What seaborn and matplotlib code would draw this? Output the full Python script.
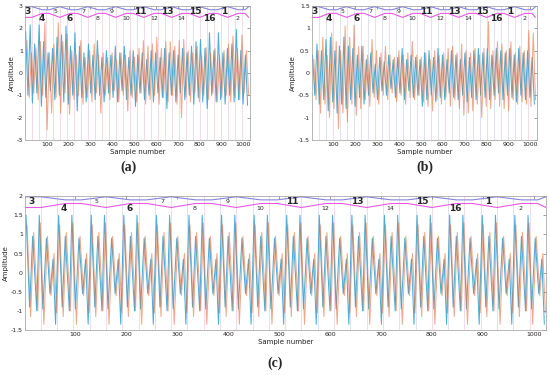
import numpy as np
import matplotlib
matplotlib.use("Agg")
import matplotlib.pyplot as plt
from matplotlib.ticker import FuncFormatter
import seaborn as sns

# segment layout of the signals
n_samples = 1024
seg_len = 64

# segment order labels drawn at the top of every panel
row1_labels = ['3', '5', '7', '9', '11', '13', '15', '1']
row2_labels = ['4', '6', '8', '10', '12', '14', '16', '2']
row1_bold = [True, False, False, False, True, True, True, True]
row2_bold = [True, True, False, False, False, False, True, False]

# (a) alternating peak / trough amplitudes
a_blue = [1.85, -1.0, 2.15, -1.35, 1.3, -0.9, 2.15, -1.5, 1.4, -1.1,
          0.9, -0.8, 1.1, -1.2, 1.6, -1.0, 1.7, -1.3, 2.1, -1.4,
          1.2, -1.0, 1.8, -1.7, 1.2, -1.1, 0.9, -1.3, 1.3, -0.9,
          0.8, -1.2, 1.45, -1.0, 0.7, -1.3, 1.0, -0.9, 0.8, -1.1,
          1.2, -1.3, 0.9, -0.8, 1.2, -1.2, 0.7, -1.0, 1.0, -1.5,
          0.8, -0.9, 0.9, -1.2, 0.6, -1.0, 1.0, -1.3, 0.9, -0.9,
          0.7, -1.1, 1.1, -1.6, 0.9, -1.0, 1.0, -1.3, 0.8, -0.9,
          1.1, -1.2, 0.9, -1.0, 1.2, -1.4, 1.4, -1.1, 1.5, -1.3,
          1.1, -1.6, 1.8, -1.0, 1.0, -1.3, 1.8, -1.2, 0.9, -1.4,
          1.1, -1.0, 1.3, -1.3, 1.95, -1.2, 1.0, -1.4, 0.8, -1.45]
a_orange = [1.45, -1.1, 0.9, -0.9, 1.1, -1.2, 1.4, -1.0, 2.25, -2.55,
            0.9, -1.8, 1.3, -1.1, 2.25, -1.8, 1.4, -0.9, 1.75, -1.85,
            1.0, -1.2, 0.8, -1.0, 1.45, -1.4, 0.7, -1.1, 1.0, -1.3,
            1.3, -0.9, 0.8, -1.8, 0.9, -1.0, 0.7, -1.2, 0.9, -0.8,
            0.6, -1.3, 0.9, -1.0, 0.8, -1.7, 1.0, -1.1, 0.7, -1.3,
            1.1, -0.9, 1.45, -1.4, 1.2, -1.2, 1.3, -1.0, 1.6, -1.4,
            1.1, -1.1, 1.4, -1.3, 1.4, -1.0, 1.2, -1.4, 1.45, -2.0,
            1.5, -1.1, 1.0, -1.3, 0.9, -0.9, 1.2, -1.3, 0.8, -1.0,
            1.15, -1.2, 0.9, -0.9, 1.1, -1.3, 0.8, -1.1, 1.0, -1.0,
            1.3, -1.3, 1.65, -1.1, 1.1, -1.2, 1.7, -0.9, 1.0, -1.0]

# (b)
b_blue = [0.4, -0.5, 0.65, -0.7, 0.5, -0.6, 0.75, -0.85, 0.8, -0.65,
          0.5, -0.9, 0.6, -0.7, 0.8, -0.8, 0.6, -0.6, 0.55, -0.75,
          0.4, -0.55, 0.6, -0.7, 0.3, -0.5, 0.45, -0.45, 0.2, -0.6,
          0.35, -0.4, 0.25, -0.5, 0.4, -0.35, 0.3, -0.55, 0.35, -0.45,
          0.55, -0.6, 0.3, -0.4, 0.4, -0.55, 0.35, -0.5, 0.3, -0.75,
          0.45, -0.6, 0.5, -0.5, 0.35, -0.65, 0.55, -0.55, 0.4, -0.6,
          0.3, -0.45, 0.5, -0.55, 0.4, -0.6, 0.3, -0.5, 0.45, -0.65,
          0.35, -0.55, 0.5, -0.6, 0.55, -0.5, 0.45, -0.55, 0.55, -0.6,
          0.4, -0.5, 0.55, -0.45, 0.5, -0.6, 0.45, -0.5, 0.55, -0.55,
          0.4, -0.65, 0.55, -0.5, 0.45, -0.6, 0.5, -0.55, 0.35, -0.7]
b_orange = [0.3, -0.6, 0.5, -0.9, 0.8, -0.7, 0.4, -1.0, 0.9, -0.8,
            0.7, -1.25, 0.5, -0.9, 1.05, -1.1, 0.8, -0.7, 1.07, -0.95,
            0.6, -0.8, 0.6, -0.6, 0.4, -0.75, 0.75, -0.55, 0.5, -0.7,
            0.45, -0.5, 0.6, -0.6, 0.4, -0.45, 0.35, -0.65, 0.5, -0.5,
            0.4, -0.7, 0.45, -0.55, 0.7, -0.6, 0.4, -0.5, 0.35, -0.65,
            0.45, -0.75, 0.3, -0.85, 0.5, -0.6, 0.4, -0.7, 0.45, -0.55,
            0.55, -0.75, 0.6, -0.6, 0.45, -0.8, 0.65, -0.95, 0.5, -0.9,
            0.45, -0.85, 0.55, -0.7, 0.4, -1.0, 0.55, -0.75, 1.15, -0.8,
            0.5, -0.6, 0.7, -0.75, 0.65, -0.8, 0.5, -0.85, 0.7, -0.6,
            0.45, -0.7, 0.6, -0.65, 0.5, -0.7, 0.95, -0.75, 0.9, -0.6]

# (c) the same 64-sample pattern shows in every segment
c_blue_offsets = [3, 10, 16, 24, 29, 36, 43, 50, 56, 61]
c_blue_cycle = [1.5, -0.9, 0.95, -1.0, 1.5, -0.95, 0.9, -0.55, 0.35, -1.35]
c_orange_offsets = [5, 12, 18, 26, 31, 38, 45, 52, 58, 63]
c_orange_cycle = [1.25, -1.15, 1.05, -1.0, 1.3, -1.35, 0.95, -0.6, 0.5, -1.05]

blue = '#2E9FD0'
orange = '#E2703F'
purple = '#8585D6'
magenta = '#E65BE0'
vline_colors = ['#F3D5E3', '#DCDCEC']

sns.set_style("white")
plt.rcParams['font.family'] = ['DejaVu Sans']
plt.rcParams['axes.unicode_minus'] = False


def guide_points(y0, y1):
    # zigzag guide lines in the top strip of each panel
    gx, gp, gm = [1], [0.995], [0.915]
    for k in range(8):
        base = 128 * k
        for dx, fp, fm in [(32, 0.995, 0.915), (80, 0.972, 0.945), (112, 0.972, 0.945)]:
            gx.append(base + dx)
            gp.append(fp)
            gm.append(fm)
    gx.append(n_samples)
    gp.append(0.995)
    gm.append(0.915)
    gx = np.array(gx)
    gp = y0 + np.array(gp) * (y1 - y0)
    gm = y0 + np.array(gm) * (y1 - y0)
    return gx, gp, gm


def draw_panel(ax, xb, yb, xo, yo, ylim, yticks, xlim):
    for i, xv in enumerate(range(seg_len // 2, n_samples, seg_len // 2)):
        ax.axvline(xv, color=vline_colors[i % 2], lw=0.6, zorder=0)
    sns.lineplot(x=xb, y=yb, ax=ax, color=blue, lw=0.75, alpha=0.85,
                 estimator=None, sort=False)
    sns.lineplot(x=xo, y=yo, ax=ax, color=orange, lw=0.75, alpha=0.6,
                 estimator=None, sort=False)

    gx, gp, gm = guide_points(*ylim)
    ax.plot(gx, gp, color=purple, lw=0.8)
    ax.plot(gx, gm, color=magenta, lw=0.8)

    span = ylim[1] - ylim[0]
    for j, (lab, bold) in enumerate(zip(row1_labels, row1_bold)):
        ax.text(14 + 128 * j, ylim[0] + 0.962 * span, lab, ha='center', va='center',
                fontsize=6.5 if bold else 4.5, fontweight='bold' if bold else 'normal')
    for j, (lab, bold) in enumerate(zip(row2_labels, row2_bold)):
        ax.text(78 + 128 * j, ylim[0] + 0.905 * span, lab, ha='center', va='center',
                fontsize=6.5 if bold else 4.5, fontweight='bold' if bold else 'normal')

    ax.set_xlim(*xlim)
    ax.set_ylim(*ylim)
    ax.set_yticks(yticks)
    ax.set_xticks(range(100, 1001, 100))
    ax.yaxis.set_major_formatter(FuncFormatter(lambda v, p: '%g' % v))
    ax.tick_params(direction='in', length=2, width=0.4, labelsize=4.5,
                   colors='#555555', labelcolor='#222222', pad=1.5,
                   top=True, right=True)
    for s in ax.spines.values():
        s.set_color('#9A9A9A')
        s.set_linewidth(0.5)
    ax.set_xlabel('Sample number', fontsize=5, labelpad=1.5, color='#222222')
    ax.set_ylabel('Amplitude', fontsize=5, labelpad=1.5, color='#222222')


fig = plt.figure(figsize=(5.5, 3.75), dpi=100)
ax_a = fig.add_axes([0.0455, 0.627, 0.409, 0.357])
ax_b = fig.add_axes([0.567, 0.627, 0.409, 0.357])
ax_c = fig.add_axes([0.0455, 0.12, 0.947, 0.357])

a_xb = np.linspace(4, 1019, len(a_blue))
a_xo = np.linspace(10, 1024, len(a_orange))
draw_panel(ax_a, a_xb, a_blue, a_xo, a_orange, (-3, 3), range(-3, 4), (1, 1030))

b_xb = np.linspace(4, 1019, len(b_blue))
b_xo = np.linspace(10, 1024, len(b_orange))
draw_panel(ax_b, b_xb, b_blue, b_xo, b_orange, (-1.5, 1.5),
           np.arange(-1.5, 1.51, 0.5), (1, 1030))

n_seg = n_samples // seg_len
starts = np.arange(n_seg)[:, None] * seg_len
c_xb = (starts + np.array(c_blue_offsets)).ravel()
c_xo = (starts + np.array(c_orange_offsets)).ravel()
c_yb = np.tile(c_blue_cycle, n_seg)
c_yo = np.tile(c_orange_cycle, n_seg)
draw_panel(ax_c, c_xb, c_yb, c_xo, c_yo, (-1.5, 2), np.arange(-1.5, 2.01, 0.5), (1, 1024))

cap = dict(fontsize=10, fontweight='bold', family='Liberation Serif', ha='center', va='center')
fig.text(0.233, 0.553, '(a)', **cap)
fig.text(0.773, 0.553, '(b)', **cap)
fig.text(0.5, 0.032, '(c)', **cap)

fig.savefig('out.png', dpi=100)
